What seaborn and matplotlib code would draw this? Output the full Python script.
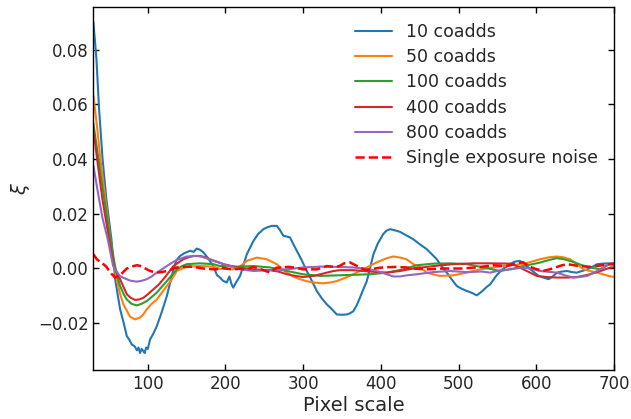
import matplotlib
matplotlib.use("Agg")
import matplotlib.pyplot as plt
import seaborn as sns
import pandas as pd

# (pixel scale, xi) pairs
pts_10 = [(30, 0.090), (33.9, 0.0767), (37.3, 0.0583), (41.8, 0.040), (46.7, 0.0253),
          (53.2, 0.0106), (58, -0.004), (64.4, -0.015), (69, -0.020), (73, -0.0248),
          (76, -0.026), (79.4, -0.0279), (83, -0.0285), (86, -0.030), (88, -0.029),
          (90, -0.031), (92, -0.0295), (94.3, -0.0303), (96, -0.031), (98, -0.029),
          (100, -0.0295), (103, -0.026), (107, -0.024), (111.6, -0.0212), (118, -0.016),
          (124.5, -0.0102), (129, -0.005), (133, -0.0004), (137, 0.003), (141.6, 0.0045),
          (147, 0.0055), (154.5, 0.0064), (159, 0.006), (163, 0.0072), (167, 0.0068),
          (171.6, 0.0058), (178, 0.0035), (184.4, 0.0008), (189, -0.0025), (193, -0.0034),
          (197, -0.0046), (201.7, -0.0052), (205, -0.003), (208, -0.006), (210, -0.0071),
          (214, -0.005), (218.8, -0.0028), (223, 0.001), (227.4, 0.0051), (236, 0.010),
          (242, 0.0125), (248.8, 0.0143), (254, 0.015), (259.6, 0.0155), (266, 0.0155),
          (270, 0.014), (274.5, 0.0119), (283, 0.0113), (287, 0.009), (291.8, 0.0064),
          (298, 0.003), (304.6, -0.001), (311, -0.0045), (317.5, -0.0083), (324, -0.011),
          (330.4, -0.0132), (337, -0.015), (343.3, -0.0169), (350, -0.017), (356, -0.0169),
          (360, -0.0165), (364.6, -0.0157), (369, -0.0135), (373, -0.0108), (377, -0.008),
          (381.9, -0.0047), (386, 0.0), (390.4, 0.0051), (396, 0.009), (403, 0.0125),
          (407, 0.0137), (411.9, 0.0143), (416, 0.0140), (420.5, 0.0137), (424.7, 0.0133),
          (433, 0.012), (441.8, 0.0106), (450, 0.0088), (459, 0.007), (466, 0.005),
          (472, 0.0033), (478, 0.0008), (484.8, -0.0016), (491, -0.004), (497.7, -0.0065),
          (504, -0.0075), (510.6, -0.0083), (517, -0.009), (523.4, -0.0099), (530, -0.0085),
          (536.3, -0.0068), (540.6, -0.0059), (549.2, -0.0025), (556, -0.0005),
          (566, 0.0015), (572, 0.0024), (579, 0.0027), (587.8, 0.0008), (596, -0.0012),
          (603, -0.0028), (609, -0.0034), (616, -0.004), (622, -0.0028), (626.6, -0.0016),
          (633, -0.0012), (639.5, -0.001), (646, -0.0014), (652, -0.0016), (659, -0.001),
          (665.6, -0.0004), (672, 0.0005), (678.5, 0.0015), (686, 0.0017), (693.5, 0.0018),
          (700, 0.0017)]

pts_50 = [(30, 0.0632), (35, 0.051), (39, 0.040), (45.4, 0.0253), (51.9, 0.0106),
          (56.6, 0.0008), (60, -0.004), (64, -0.009), (68.6, -0.0132), (73, -0.0155),
          (77.2, -0.0177), (83.7, -0.0187), (90, -0.018), (94, -0.017), (98.7, -0.015),
          (105, -0.013), (111.6, -0.0114), (118, -0.009), (124.5, -0.0065), (131, -0.004),
          (137.3, -0.001), (150.2, 0.0006), (167.3, 0.0008), (184.4, 0.0006), (193, -0.0002),
          (201.7, -0.0003), (210, -0.0004), (218, 0.0005), (227.4, 0.0027), (240.3, 0.0039),
          (253, 0.0033), (266, 0.0015), (279, -0.0016), (287, -0.003), (296, -0.004),
          (304, -0.0047), (313, -0.0052), (326, -0.0055), (335, -0.0052), (343.3, -0.0047),
          (354, -0.0035), (364.6, -0.0022), (373, -0.001), (381.9, 0.0003), (390, 0.0015),
          (399, 0.0027), (408, 0.0037), (416, 0.0043), (425, 0.0039), (433, 0.0033),
          (441.8, 0.0015), (450, 0.0005), (459, -0.0016), (467, -0.0022), (476, -0.0028),
          (493, -0.0026), (510.6, -0.0016), (527.7, -0.0004), (544.8, 0.0003), (562, 0.0010),
          (583.4, 0.0015), (595, 0.0025), (605, 0.0033), (616, 0.0040), (626.6, 0.0043),
          (635, 0.0040), (643.7, 0.0033), (652, 0.0015), (660.8, -0.0004), (669, -0.0010),
          (678.5, -0.0016), (687, -0.0023), (695.6, -0.003), (700, -0.0031)]

pts_100 = [(30, 0.053), (35, 0.043), (40, 0.033), (44, 0.0253), (51.9, 0.0106),
           (57.9, 0.0008), (61, -0.003), (64.4, -0.0065), (69, -0.0095), (73, -0.0114),
           (79, -0.013), (85.8, -0.0136), (92, -0.013), (98.7, -0.012), (105, -0.0105),
           (111.6, -0.0089), (118, -0.0068), (124.5, -0.0047), (131, -0.0025),
           (137.3, -0.0004), (144, 0.0008), (150.2, 0.0015), (167.3, 0.0018),
           (184.4, 0.0015), (193, 0.0008), (201.7, 0.0009), (214.5, 0.0006), (236, 0.0008),
           (257.4, 0.0003), (279, -0.001), (300, -0.0022), (321.8, -0.0028),
           (343.3, -0.0026), (364.6, -0.0024), (386, -0.0022), (407.6, -0.0016),
           (429, -0.0004), (446, 0.0011), (467.6, 0.0017), (489, 0.0018), (510.6, 0.0015),
           (532, 0.0003), (553.4, -0.001), (570, -0.0002), (583.4, 0.0008), (595, 0.0015),
           (605, 0.0021), (616, 0.0030), (626.6, 0.0037), (637, 0.0032), (647.8, 0.0023),
           (658, 0.0012), (669, 0.0003), (682.7, -0.0004), (693.5, 0.0015), (700, 0.0012)]

pts_400 = [(30, 0.051), (34.8, 0.040), (41.6, 0.0253), (50.2, 0.0106), (56.3, 0.0008),
           (60, -0.0015), (64.4, -0.004), (69, -0.007), (73, -0.0095), (78, -0.0108),
           (83.7, -0.0116), (89, -0.0114), (94.3, -0.0108), (101, -0.0093), (107.2, -0.0077),
           (114, -0.006), (120, -0.004), (127, -0.0015), (133, 0.0008), (140, 0.0022),
           (145.8, 0.0033), (152, 0.004), (158.7, 0.0045), (167.3, 0.0045), (174, 0.004),
           (180, 0.0033), (189, 0.0024), (197.3, 0.0015), (205, 0.001), (214.5, 0.0003),
           (236, -0.0004), (257.4, -0.0007), (268, -0.0012), (279, -0.0022), (290, -0.0028),
           (300, -0.0032), (313, -0.0028), (322, -0.0022), (330.4, -0.0016), (339, -0.001),
           (347.6, -0.0007), (364.6, -0.0007), (386, -0.0012), (407.6, -0.0016),
           (424.7, -0.001), (441.8, -0.0001), (467.6, 0.0008), (493, 0.0015), (519, 0.0018),
           (540.6, 0.0018), (566, 0.0017), (575, 0.0008), (583.4, -0.0004), (592, -0.0016),
           (600.6, -0.0028), (613, -0.0032), (626.6, -0.0034), (640, -0.0034),
           (652, -0.0032), (660, -0.0028), (669, -0.0022), (682.7, -0.001), (695.6, 0.0003),
           (700, 0.0004)]

pts_800 = [(30, 0.0375), (37.3, 0.0253), (42, 0.018), (48.5, 0.0106), (55.4, 0.0008),
           (60, -0.0012), (64, -0.0028), (68.6, -0.0035), (73, -0.0040), (77.2, -0.0045),
           (85.8, -0.0049), (92, -0.0046), (98.7, -0.004), (105, -0.003), (111.6, -0.0016),
           (118, -0.0004), (124.5, 0.0008), (131, 0.002), (137.3, 0.003), (144, 0.0037),
           (150.2, 0.0043), (163, 0.0045), (170, 0.0042), (176, 0.0036), (182, 0.003),
           (188.8, 0.0023), (195, 0.0018), (201.7, 0.0011), (208, 0.0006), (214.5, 0.0),
           (225, -0.0006), (236, -0.001), (257.4, -0.0007), (279, -0.0004), (300, 0.0003),
           (321.8, 0.0006), (343.3, 0.0005), (364.6, 0.0003), (386, -0.0004),
           (397, -0.0012), (407.6, -0.0022), (416, -0.003), (424.7, -0.003), (433, -0.0026),
           (446, -0.0022), (467.6, -0.0014), (489, -0.001), (510.6, -0.0014),
           (530, -0.0012), (540.6, -0.0016), (553.4, -0.0008), (566, -0.0004),
           (583.4, 0.0003), (595, -0.0003), (605, -0.001), (616, -0.0013), (626.6, -0.0016),
           (637, -0.0026), (647.8, -0.0034), (656, -0.0032), (665.6, -0.0028),
           (674, -0.0016), (682.7, -0.0004), (693.5, 0.0015), (700, 0.0017)]

pts_noise = [(30, 0.0051), (34.4, 0.0033), (38, 0.0025), (42.9, 0.0015), (47, 0.0005),
             (51.5, -0.0016), (55, -0.0025), (58, -0.0034), (61, -0.003), (64.4, -0.0026),
             (69, -0.0012), (73, -0.0001), (79, 0.0006), (85.8, 0.0011), (90, 0.0009),
             (94.3, 0.0003), (99, -0.0004), (103, -0.001), (107, -0.0013), (111.6, -0.0016),
             (118, -0.0014), (124.5, -0.001), (131, -0.0004), (137.3, 0.0003), (146, 0.0005),
             (154.5, 0.0006), (163, 0.0003), (171.6, -0.0001), (180, -0.0003),
             (188.8, -0.0004), (193, 0.0003), (201.7, -0.0001), (210, -0.0004),
             (218, -0.0002), (227.4, -0.0004), (236, 0.0005), (242, 0.0), (248.8, -0.0007),
             (257.4, -0.0016), (262, -0.0006), (266, 0.0002), (274, 0.0004), (283, 0.0005),
             (291, 0.0001), (300, -0.0004), (308, -0.0004), (317.5, -0.0004), (324, 0.0002),
             (330.4, 0.0008), (337, 0.0006), (343.3, 0.0005), (348, 0.001), (351.9, 0.0017),
             (356, 0.002), (360.5, 0.0021), (366, 0.0013), (373.3, 0.0003), (377, -0.0002),
             (382, -0.0007), (390, -0.0002), (399, 0.0002), (410, 0.0004), (420.5, 0.0005),
             (433, 0.0003), (441.8, -0.0001), (459, -0.0004), (480.4, -0.0001),
             (502, -0.0001), (523.4, 0.0003), (544.8, 0.0011), (562, 0.0008), (575, 0.0018),
             (583, 0.0022), (592, 0.0005), (600, -0.0003), (609, -0.001), (617, -0.0004),
             (625, 0.0003), (632, 0.0010), (640, 0.0015), (655, 0.0008), (670, 0.0005),
             (687, 0.0012), (700, 0.0017)]

series = [
    ("10 coadds", pts_10, "#1f77b4"),
    ("50 coadds", pts_50, "#ff7f0e"),
    ("100 coadds", pts_100, "#2ca02c"),
    ("400 coadds", pts_400, "#d62728"),
    ("800 coadds", pts_800, "#9467bd"),
]

sns.set_style("ticks", {"xtick.direction": "in", "ytick.direction": "in"})

fig = plt.figure(figsize=(6.31, 4.19), dpi=100)
ax = fig.add_axes([0.148, 0.117, 0.825, 0.866])

for name, pts, col in series:
    df = pd.DataFrame(pts, columns=["pix", "xi"])
    sns.lineplot(data=df, x="pix", y="xi", ax=ax, color=col, lw=1.5, label=name,
                 estimator=None, sort=False)

noise_df = pd.DataFrame(pts_noise, columns=["pix", "xi"])
sns.lineplot(data=noise_df, x="pix", y="xi", ax=ax, color="red", lw=1.8,
             linestyle="--", label="Single exposure noise", estimator=None, sort=False)

ax.set_xlim(30, 700)
ax.set_ylim(-0.0372, 0.0955)
ax.set_xticks([100, 200, 300, 400, 500, 600, 700])
ax.set_yticks([-0.02, 0.00, 0.02, 0.04, 0.06, 0.08])
ax.tick_params(axis="both", which="both", direction="in", top=True, right=True,
               labelsize=12, length=4, width=1, color="black")
for s in ax.spines.values():
    s.set_color("black")
    s.set_linewidth(1)

ax.set_xlabel("Pixel scale", fontsize=14, labelpad=2)
ax.set_ylabel("$\\xi$", fontsize=14)

ax.legend(loc="upper right", frameon=False, fontsize=12.5, handlelength=2.13,
          handletextpad=0.8, borderaxespad=0.5, labelspacing=0.42)

fig.savefig("out.png", dpi=100)
plt.close(fig)
